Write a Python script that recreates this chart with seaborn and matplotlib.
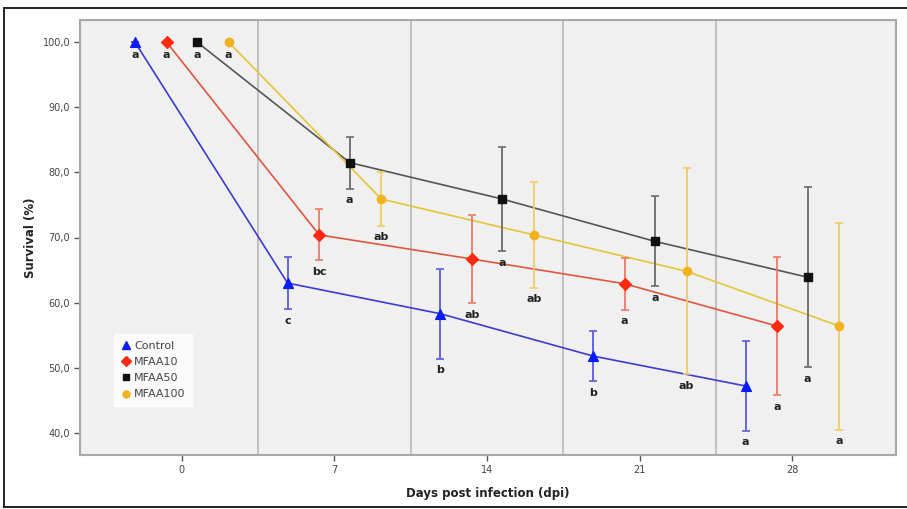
import pandas as pd
import matplotlib.pyplot as plt
import seaborn as sns
from matplotlib.lines import Line2D

# values
days = [0, 7, 14, 21, 28]
groups = ['Control', 'MFAA10', 'MFAA50', 'MFAA100']

control_mean = [100.0, 63.0, 58.3, 51.8, 47.2]
control_err = [0.0, 4.0, 6.9, 3.9, 6.9]
control_letters = ['a', 'c', 'b', 'b', 'a']

mfaa10_mean = [100.0, 70.4, 66.7, 62.9, 56.4]
mfaa10_err = [0.0, 3.9, 6.8, 4.0, 10.6]
mfaa10_letters = ['a', 'bc', 'ab', 'a', 'a']

mfaa50_mean = [100.0, 81.5, 75.9, 69.4, 63.9]
mfaa50_err = [0.0, 4.0, 8.0, 6.9, 13.8]
mfaa50_letters = ['a', 'a', 'a', 'a', 'a']

mfaa100_mean = [100.0, 75.9, 70.4, 64.8, 56.4]
mfaa100_err = [0.0, 4.1, 8.1, 15.8, 15.9]
mfaa100_letters = ['a', 'ab', 'ab', 'ab', 'a']

means = [control_mean, mfaa10_mean, mfaa50_mean, mfaa100_mean]
errs = [control_err, mfaa10_err, mfaa50_err, mfaa100_err]
letters = [control_letters, mfaa10_letters, mfaa50_letters, mfaa100_letters]

# styling
offsets = [-2.15, -0.7, 0.7, 2.15]
line_cols = ['#3b3bd6', '#e2553f', '#555555', '#e6c43a']
bar_cols = ['#5a5ae0', '#ec7a66', '#6a6a6a', '#f2cc60']
mark_cols = ['#0a1cff', '#ff2a10', '#111111', '#f2b21e']
markers = ['^', 'D', 's', 'o']
msizes = [7, 6, 6, 6]

rows = []
for g, m, e, lt, off in zip(groups, means, errs, letters, offsets):
    for d, mv, ev, l in zip(days, m, e, lt):
        rows.append({'group': g, 'day': d, 'x': d + off, 'mean': mv,
                     'err': ev, 'letter': l})
df = pd.DataFrame(rows)

sns.set_style('white')
fig = plt.figure(figsize=(9.07, 5.09), dpi=100)
ax = fig.add_axes([80 / 907, 1 - 455 / 509, 816 / 907, 435 / 509])
ax.set_facecolor('#f0f0f0')

# outer frame (top, left, bottom)
fx0, fy0, fy1 = 4 / 907, 1 - 507 / 509, 1 - 8 / 509
for xs, ys in [([fx0, 1], [fy1, fy1]), ([fx0, fx0], [fy0, fy1]),
               ([fx0, 1], [fy0, fy0])]:
    fig.add_artist(Line2D(xs, ys, transform=fig.transFigure,
                          color='#111111', linewidth=1.3))

# group separators
for s in [3.5, 10.5, 17.5, 24.5]:
    ax.axvline(s, color='#b8b8b8', linewidth=1.2, zorder=0)

sns.lineplot(data=df, x='x', y='mean', hue='group', hue_order=groups,
             palette=dict(zip(groups, line_cols)), legend=False,
             linewidth=1.2, ax=ax, zorder=2)

for i, g in enumerate(groups):
    sub = df[df['group'] == g]
    ax.errorbar(sub['x'], sub['mean'], yerr=sub['err'], fmt='none',
                ecolor=bar_cols[i], elinewidth=1.3, capsize=3,
                capthick=1.2, zorder=3)
    ax.scatter(sub['x'], sub['mean'], marker=markers[i], s=msizes[i] ** 2,
               color=mark_cols[i], edgecolor=mark_cols[i], zorder=4)
    for _, r in sub.iterrows():
        low = r['mean'] - r['err']
        ax.text(r['x'], low - (1.0 if r['err'] > 0 else 1.2), r['letter'],
                ha='center', va='top', fontsize=8, fontweight='bold',
                color='#222222', zorder=5)

ax.set_xlim(-4.67, 32.75)
ax.set_ylim(36.6, 103.4)
ax.set_xticks(days)
ax.set_xticklabels([str(d) for d in days])
yt = [40, 50, 60, 70, 80, 90, 100]
ax.set_yticks(yt)
ax.set_yticklabels([f'{v:.1f}'.replace('.', ',') for v in yt])
ax.tick_params(axis='both', which='major', direction='out', length=4,
               width=1, color='#555555', labelsize=7, labelcolor='#444444',
               left=True, bottom=True, pad=3)
for sp in ax.spines.values():
    sp.set_color('#a8a8a8')
    sp.set_linewidth(1.5)

ax.set_xlabel('Days post infection (dpi)', fontsize=8.5, fontweight='bold',
              labelpad=9, color='#222222')
ax.set_ylabel('Survival (%)', fontsize=8.5, fontweight='bold',
              labelpad=4, color='#222222')

handles = [Line2D([0], [0], color=mark_cols[i], marker=markers[i],
                  markersize=msizes[i] - 1, linestyle='none')
           for i in range(4)]
leg = ax.legend(handles, groups, loc='upper left',
                bbox_to_anchor=(0.035, 0.29), frameon=True, fontsize=8,
                handletextpad=0.2, labelspacing=0.55, borderpad=0.6,
                handlelength=1.0, fancybox=False)
leg.get_frame().set_facecolor('white')
leg.get_frame().set_edgecolor('white')
for t in leg.get_texts():
    t.set_color('#444444')

plt.savefig('out.png', dpi=100)
